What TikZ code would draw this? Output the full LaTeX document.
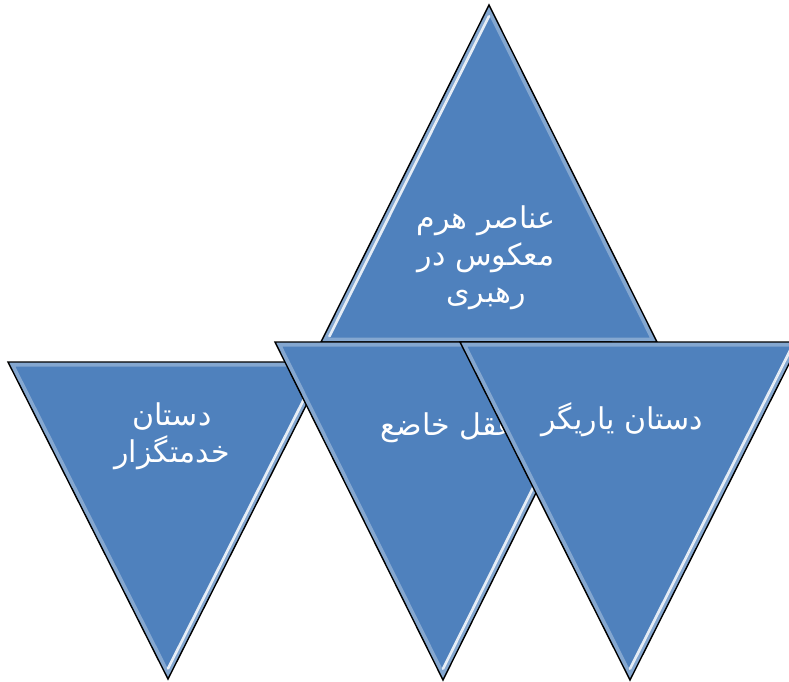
\documentclass[tikz,border=0pt]{standalone}
\usepackage{fontspec}
\newfontfamily\arabicfont[Script=Arabic]{DejaVu Sans}
\TeXXeTstate=1
\usetikzlibrary{calc}
\definecolor{pyrblue}{RGB}{79,129,189}

\begin{document}
\begin{tikzpicture}[x=1pt,y=-1pt,
  tri/.style={fill=pyrblue},
  edge/.style={draw=black,line width=1.4pt,line join=miter},
  rim/.style={draw=white,opacity=0.3,line width=9pt},
  gleam/.style={draw=white,line width=2.6pt,opacity=0.85,line cap=round},
  lbl/.style={text=white,align=center,
              font=\arabicfont\fontsize{30}{37}\selectfont}]
  \clip (0,0) rectangle (789,681);

  % top triangle (pointing up)
  \coordinate (ta) at (489,5);
  \coordinate (tl) at (321,342);
  \coordinate (tr) at (657,342);
  \coordinate (tg) at (barycentric cs:ta=1,tl=1,tr=1);
  \path[tri] (ta) -- (tl) -- (tr) -- cycle;
  \begin{scope}
    \clip (ta) -- (tl) -- (tr) -- cycle;
    \draw[rim] (ta) -- (tl) -- (tr) -- cycle;
  \end{scope}
  \draw[gleam] ($(tg)!0.95!(ta)$) -- ($(tg)!0.95!(tl)$);
  \draw[edge] (ta) -- (tl) -- (tr) -- cycle;
  \node[lbl] (toptxt) at (486,258)
    {{\beginR عناصر هرم\endR}\\{\beginR معکوس در\endR}\\{\beginR رهبری\endR}};

  % left triangle
  \coordinate (la) at (168,679);
  \coordinate (lb) at (8,362);
  \coordinate (lc) at (328,362);
  \coordinate (lg) at (barycentric cs:la=1,lb=1,lc=1);
  \path[tri] (la) -- (lb) -- (lc) -- cycle;
  \begin{scope}
    \clip (la) -- (lb) -- (lc) -- cycle;
    \draw[rim] (la) -- (lb) -- (lc) -- cycle;
  \end{scope}
  \draw[gleam] ($(lg)!0.95!(lc)$) -- ($(lg)!0.95!(la)$);
  \draw[edge] (la) -- (lb) -- (lc) -- cycle;
  \node[lbl] (lefttxt) at (172,436)
    {{\beginR دستان\endR}\\{\beginR خدمتگزار\endR}};

  % middle triangle
  \coordinate (ma) at (443,680);
  \coordinate (mb) at (275,342);
  \coordinate (mc) at (611,342);
  \coordinate (mg) at (barycentric cs:ma=1,mb=1,mc=1);
  \path[tri] (ma) -- (mb) -- (mc) -- cycle;
  \begin{scope}
    \clip (ma) -- (mb) -- (mc) -- cycle;
    \draw[rim] (ma) -- (mb) -- (mc) -- cycle;
  \end{scope}
  \draw[gleam] ($(mg)!0.95!(mc)$) -- ($(mg)!0.95!(ma)$);
  \draw[edge] (ma) -- (mb) -- (mc) -- cycle;
  \node[lbl] (midtxt) at (448,428) {\beginR عقل خاضع\endR};

  % right triangle
  \coordinate (ra) at (630,680);
  \coordinate (rb) at (460,342);
  \coordinate (rc) at (800,342);
  \coordinate (rg) at (barycentric cs:ra=1,rb=1,rc=1);
  \path[tri] (ra) -- (rb) -- (rc) -- cycle;
  \begin{scope}
    \clip (ra) -- (rb) -- (rc) -- cycle;
    \draw[rim] (ra) -- (rb) -- (rc) -- cycle;
  \end{scope}
  \draw[gleam] ($(rg)!0.95!(rc)$) -- ($(rg)!0.95!(ra)$);
  \draw[edge] (ra) -- (rb) -- (rc) -- cycle;
  \node[lbl] (righttxt) at (622,420) {\beginR دستان یاریگر\endR};
\end{tikzpicture}
\end{document}
